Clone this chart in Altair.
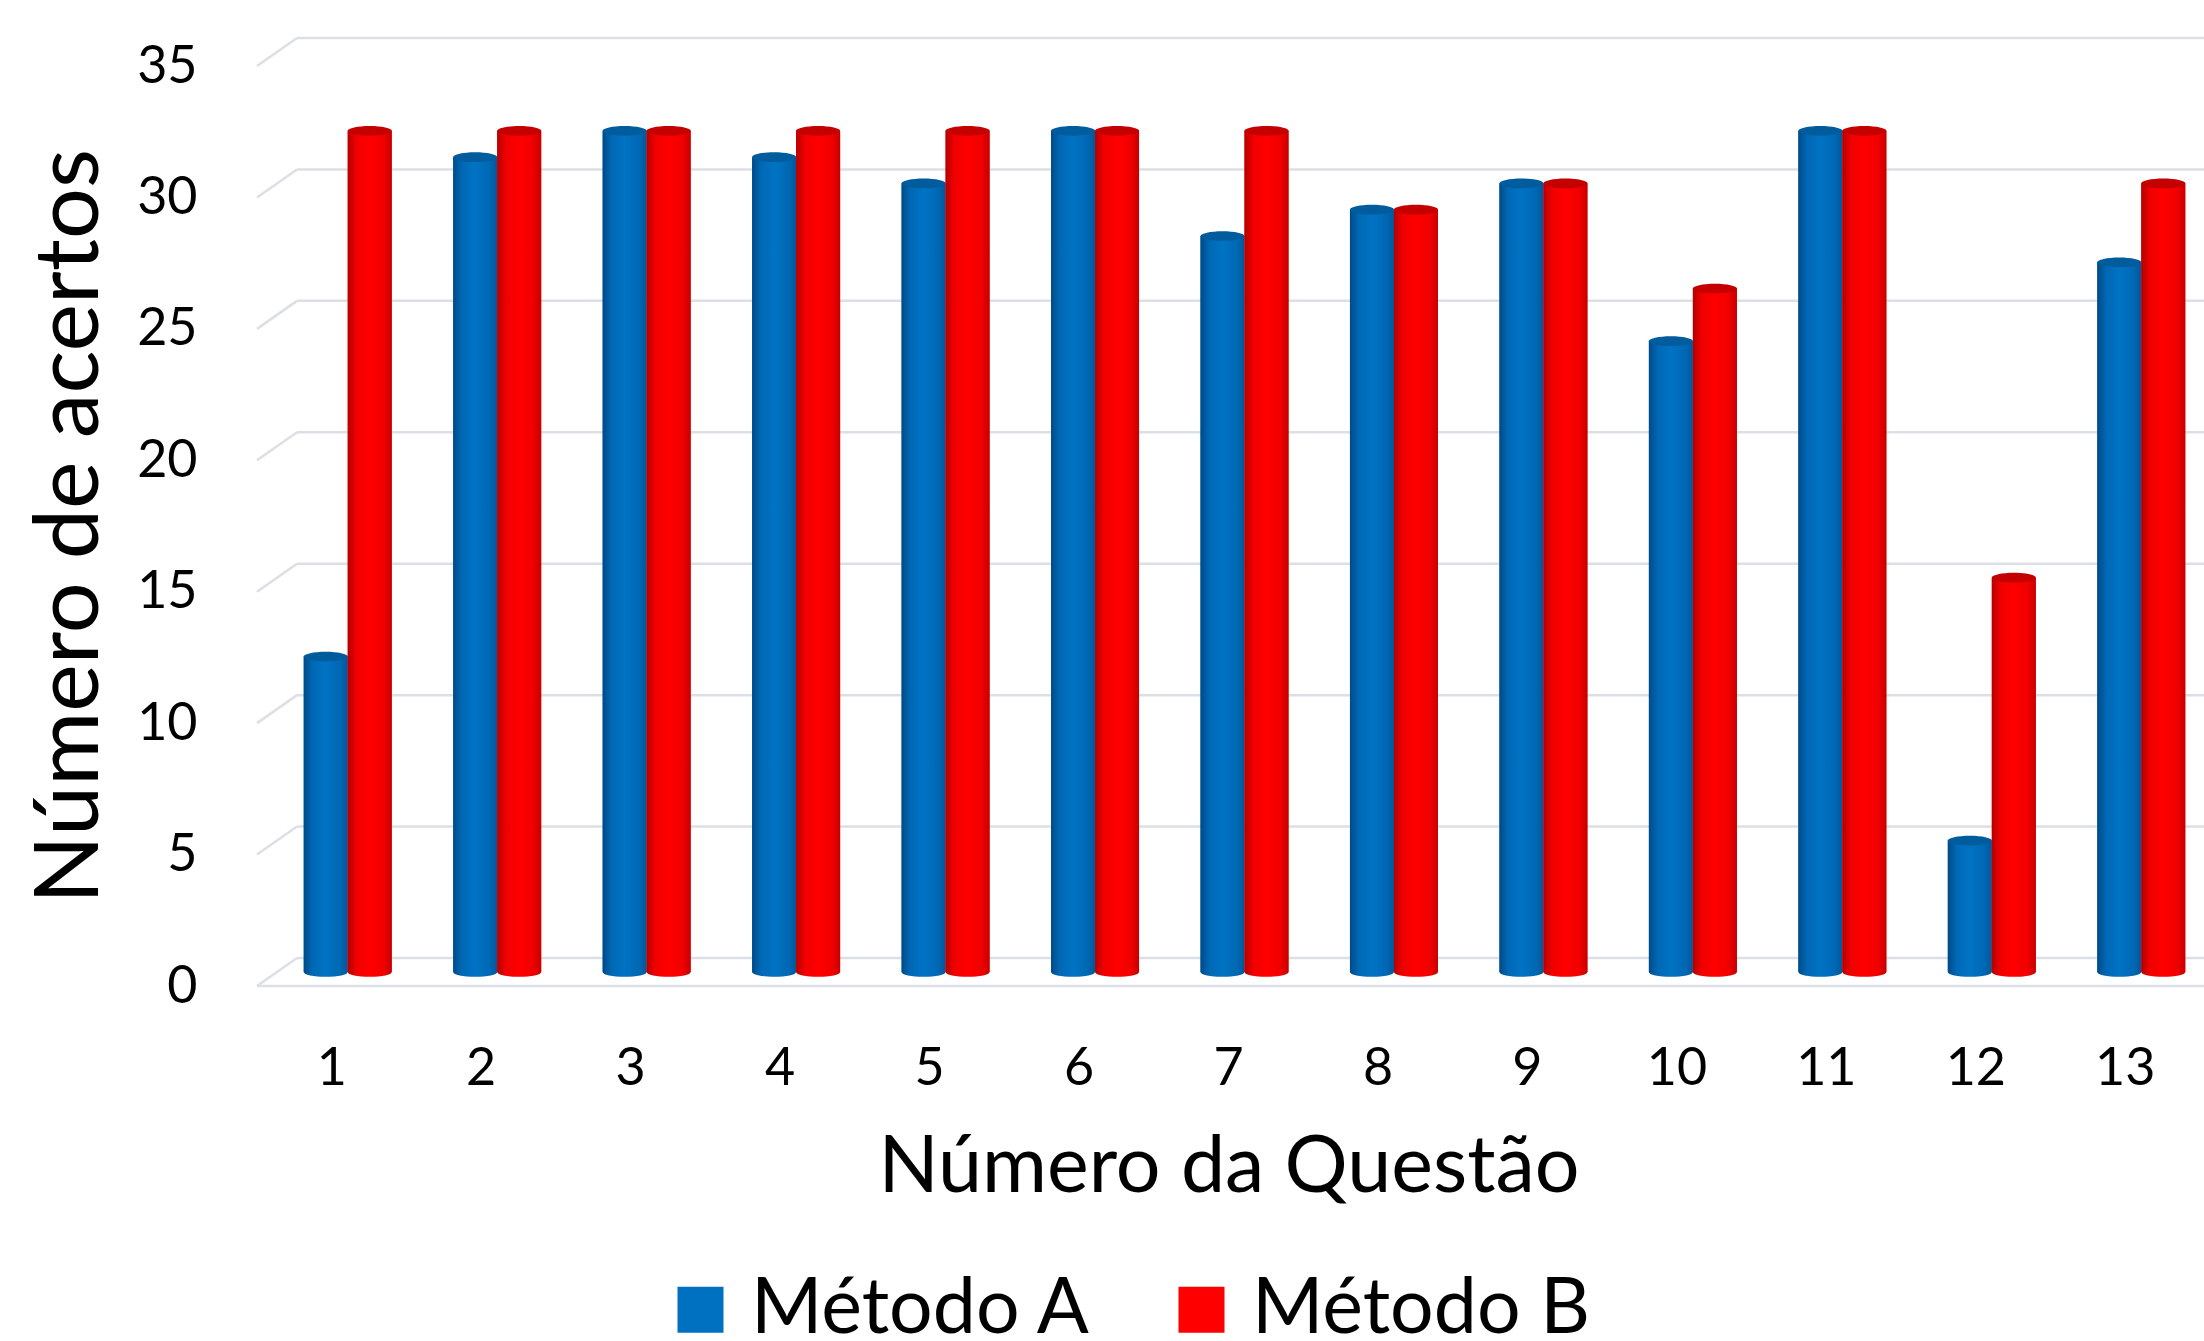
import altair as alt
import pandas as pd

# ---------------- data ----------------
questoes = [str(i) for i in range(1, 14)]
metodo_a = [12, 31, 32, 31, 30, 32, 28, 29, 30, 24, 32, 5, 27]
metodo_b = [32, 32, 32, 32, 32, 32, 32, 29, 30, 26, 32, 15, 30]
series = ["Método A", "Método B"]
cores = ["#0070c0", "#ff0000"]
y_ticks = [0, 5, 10, 15, 20, 25, 30, 35]

rows = []
for s, vals in zip(series, [metodo_a, metodo_b]):
    for q, v in zip(questoes, vals):
        rows.append({"questao": q, "metodo": s, "acertos": v})
df = pd.DataFrame(rows)
grid_df = pd.DataFrame({"v": y_ticks})

# ---------------- style ----------------
W, H = 1943, 920
FONT = "Lato"
BAR = 44
DY = -14          # bar plane lifted above the front plane
GRID = "#dcdfe5"
Y_TITLE = "Número de acertos"

ELLIPSE = "M-1,0A1,0.22,0,1,0,1,0A1,0.22,0,1,0,-1,0Z"
HALF = "M-1,0A1,0.22,0,0,0,1,0Z"
DIAG = "M-1,0.7L1,-0.7"


def grad(c0, c1, c2, c3):
    return {"gradient": "linear", "x1": 0, "x2": 1, "y1": 0, "y2": 0,
            "stops": [{"offset": 0, "color": c0},
                      {"offset": 0.2, "color": c1},
                      {"offset": 0.5, "color": c2},
                      {"offset": 0.82, "color": c1},
                      {"offset": 1, "color": c3}]}


grad_a = grad("#004a88", "#0068b4", "#0073c4", "#00589c")
grad_b = grad("#b40000", "#f00000", "#ff0000", "#c60000")
cap_a = "#005c9c"
cap_b = "#c40000"

X = alt.X("questao:N", sort=questoes, title="Número da Questão",
          scale=alt.Scale(paddingInner=0.4, paddingOuter=0.2),
          axis=alt.Axis(labelAngle=0, labelFontSize=52, labelFont=FONT,
                        labelColor="black", labelBaseline="middle",
                        labelPadding=82, ticks=False, tickSize=0,
                        domain=False, grid=False,
                        titleFontSize=79, titleFont=FONT,
                        titleFontWeight="normal", titleColor="black",
                        titleY=181, titleBaseline="middle"))

yaxis = alt.Axis(values=y_ticks, labelFontSize=52, labelFont=FONT,
                 labelColor="black", labelPadding=60, ticks=False,
                 tickSize=0, domain=False, grid=False,
                 titleFontSize=90, titleFont=FONT, titleFontWeight="normal",
                 titleColor="black", titleX=-187, titleY=H / 2,
                 titleBaseline="middle")
yscale = alt.Scale(domain=[0, 35], nice=False, zero=True)


def Y(field):
    return alt.Y(field, scale=yscale, axis=yaxis, title=Y_TITLE)


legend = alt.Legend(orient="none", legendX=405, legendY=1205,
                    direction="horizontal", columns=2, title=None,
                    symbolType="square", symbolSize=BAR * BAR + 180,
                    symbolStrokeWidth=0, symbolOpacity=1,
                    labelFontSize=77, labelFont=FONT, labelColor="black",
                    labelLimit=2000, labelOffset=12, columnPadding=71)

# ---------------- back walls / floor ----------------
grid_base = alt.Chart(grid_df)
back_grid = grid_base.mark_rule(color=GRID, strokeWidth=2.5, yOffset=-28).encode(
    x=alt.value(40), x2=alt.value(W + 4), y=Y("v:Q"))
diag = grid_base.mark_point(shape=DIAG, size=1600, filled=False, color=GRID,
                            strokeWidth=2.5, opacity=1, yOffset=-14).encode(
    x=alt.value(20), y=Y("v:Q"))
floor = alt.Chart(grid_df).transform_filter(alt.datum.v == 0).mark_rule(
    color=GRID, strokeWidth=2.5).encode(
    x=alt.value(0), x2=alt.value(W + 4), y=Y("v:Q"))


def series_layers(name, off, g, cap):
    d = alt.Chart(df).transform_filter(alt.datum.metodo == name)
    flat = d.mark_bar(size=BAR, xOffset=off, yOffset=DY, y2Offset=DY).encode(
        x=X, y=Y("acertos:Q"),
        color=alt.Color("metodo:N", scale=alt.Scale(domain=series, range=cores),
                        legend=legend))
    shade = d.mark_bar(size=BAR, xOffset=off, yOffset=DY, y2Offset=DY,
                       fill=g).encode(x=X, y=Y("acertos:Q"))
    bottom = d.mark_point(shape=HALF, size=BAR * BAR, filled=True, fill=g,
                          strokeWidth=0, opacity=1, xOffset=off,
                          yOffset=DY).encode(x=X, y=alt.value(H))
    top = d.mark_point(shape=ELLIPSE, size=BAR * BAR, filled=True, fill=cap,
                       strokeWidth=0, opacity=1, xOffset=off,
                       yOffset=DY).encode(x=X, y=Y("acertos:Q"))
    return [flat, shade, bottom, top]


layers = [back_grid, diag, floor]
layers += series_layers("Método A", -6, grad_a, cap_a)
layers += series_layers("Método B", 38, grad_b, cap_b)

chart = alt.layer(*layers).properties(
    width=W, height=H,
    autosize=alt.AutoSizeParams(type="none"),
    padding={"left": 257, "top": 66, "right": 4, "bottom": 355},
    background="white",
).configure_view(stroke=None)

chart.save("out.html", embed_options={"renderer": "svg", "actions": False})
